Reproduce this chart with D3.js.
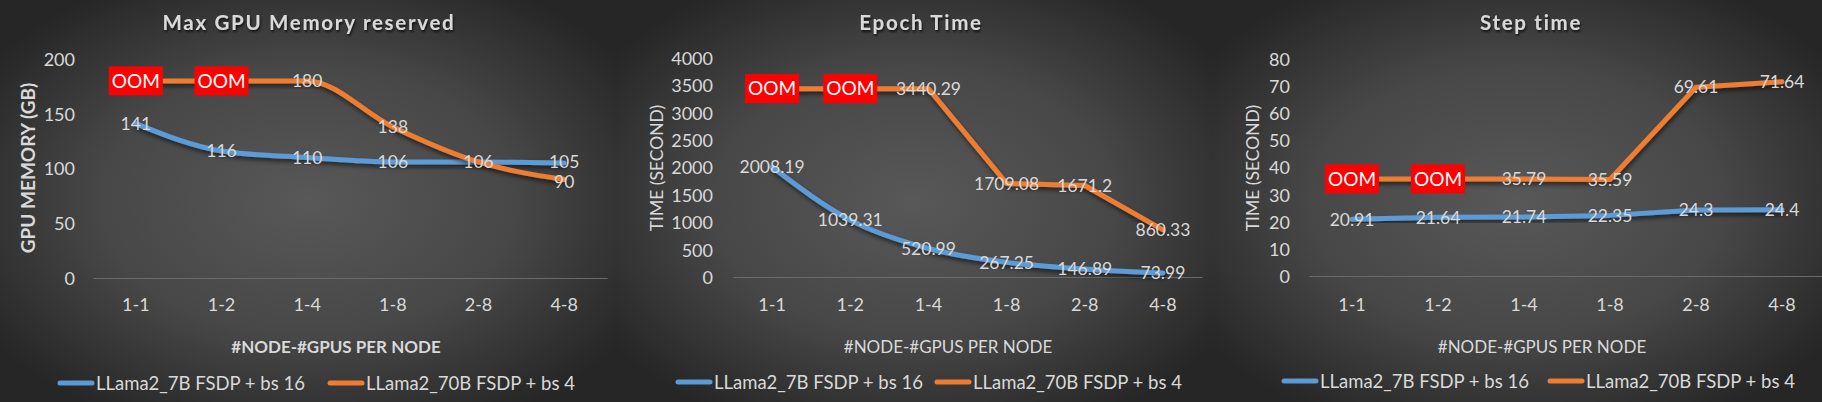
<!DOCTYPE html>
<html><head><meta charset="utf-8">
<script src="https://cdn.jsdelivr.net/npm/d3@7/dist/d3.min.js"></script>
<style>
html,body{margin:0;padding:0;background:#2e2e2e;overflow:hidden;}
svg{display:block;}
</style></head><body>
<svg id="c" width="1822" height="402"></svg>
<script>
// ---------- DATA ----------
const categories = ["1-1", "1-2", "1-4", "1-8", "2-8", "4-8"];
const seriesNames = ["LLama2_7B FSDP + bs 16", "LLama2_70B FSDP + bs 4"];
const oomFlags = [true, true, false, false, false, false];

const memory7B = [141, 116, 110, 106, 106, 105];
const memory70B = [180, 180, 180, 138, 106, 90];
const memoryTicks = [0, 50, 100, 150, 200];

const epoch7B = [2008.19, 1039.31, 520.99, 267.25, 146.89, 73.99];
const epoch70B = [3440.29, 3440.29, 3440.29, 1709.08, 1671.2, 860.33];
const epochTicks = [0, 500, 1000, 1500, 2000, 2500, 3000, 3500, 4000];

const step7B = [20.91, 21.64, 21.74, 22.35, 24.3, 24.4];
const step70B = [35.79, 35.79, 35.79, 35.59, 69.61, 71.64];
const stepTicks = [0, 10, 20, 30, 40, 50, 60, 70, 80];

const titles = ["Max GPU Memory reserved", "Epoch Time", "Step time"];
const yTitles = ["GPU MEMORY (GB)", "TIME (SECOND)", "TIME (SECOND)"];
const xTitle = "#NODE-#GPUS PER NODE";

// ---------- STYLE ----------
const BLUE = "#5B9BD5", ORANGE = "#ED7D31", TXT = "#d9d9d9";
const FONT = "Lato, 'Open Sans', 'DejaVu Sans', sans-serif";

const svg = d3.select("#c");
const defs = svg.append("defs");
const sh = defs.append("filter").attr("id", "lineShadow").attr("x", "-10%").attr("y", "-30%").attr("width", "120%").attr("height", "160%");
sh.append("feDropShadow").attr("dx", 1).attr("dy", 3).attr("stdDeviation", 2).attr("flood-color", "#000").attr("flood-opacity", 0.55);
const tsh = defs.append("filter").attr("id", "textShadow").attr("x", "-10%").attr("y", "-30%").attr("width", "120%").attr("height", "160%");
tsh.append("feDropShadow").attr("dx", 1).attr("dy", 2).attr("stdDeviation", 1.2).attr("flood-color", "#000").attr("flood-opacity", 0.7);

const charts = [
  { id: "p1", px0: 0, px1: 616, plotX0: 93, plotX1: 607, yTop: 59, yBottom: 278, yMax: 200, ticks: memoryTicks,
    s1: memory7B, s2: memory70B, smooth1: true, smooth2: true, title: titles[0], titleX: 309,
    yTitle: yTitles[0], yTitleX: 28, yTitleSize: 19, yTitleBold: true, xTitleX: 336, xTitleBold: true,
    tickRight: 75, leg1: 58, leg2: 328, legY: 383 },
  { id: "p2", px0: 616, px1: 1212, plotX0: 733, plotX1: 1202, yTop: 58, yBottom: 277, yMax: 4000, ticks: epochTicks,
    s1: epoch7B, s2: epoch70B, smooth1: true, smooth2: false, title: titles[1], titleX: 921,
    yTitle: yTitles[1], yTitleX: 657, yTitleSize: 17.5, yTitleBold: false, xTitleX: 948, xTitleBold: false,
    tickRight: 713, leg1: 676, leg2: 935, legY: 382 },
  { id: "p3", px0: 1212, px1: 1822, plotX0: 1309, plotX1: 1825, yTop: 59, yBottom: 276, yMax: 80, ticks: stepTicks,
    s1: step7B, s2: step70B, smooth1: false, smooth2: false, title: titles[2], titleX: 1531,
    yTitle: yTitles[2], yTitleX: 1253, yTitleSize: 17.5, yTitleBold: false, xTitleX: 1542, xTitleBold: false,
    tickRight: 1290, leg1: 1282, leg2: 1548, legY: 381 }
];

const fmt = v => String(v);

charts.forEach(cfg => {
  const grad = defs.append("radialGradient").attr("id", cfg.id + "bg").attr("cx", "50%").attr("cy", "50%").attr("r", "62%");
  grad.append("stop").attr("offset", "0%").attr("stop-color", "#585858");
  grad.append("stop").attr("offset", "55%").attr("stop-color", "#474747");
  grad.append("stop").attr("offset", "100%").attr("stop-color", "#262626");

  const g = svg.append("g").attr("font-family", FONT);
  g.append("rect").attr("x", cfg.px0).attr("y", 0).attr("width", cfg.px1 - cfg.px0).attr("height", 402)
    .attr("fill", `url(#${cfg.id}bg)`);

  const x = d3.scaleBand().domain(categories).range([cfg.plotX0, cfg.plotX1]);
  const y = d3.scaleLinear().domain([0, cfg.yMax]).range([cfg.yBottom, cfg.yTop]);
  const cx = c => x(c) + x.bandwidth() / 2;

  // y axis (labels only)
  const ya = g.append("g").attr("transform", `translate(${cfg.plotX0},0)`)
    .call(d3.axisLeft(y).tickValues(cfg.ticks).tickFormat(d3.format("d")).tickSize(0).tickPadding(cfg.plotX0 - cfg.tickRight));
  ya.attr("font-family", null).attr("font-size", null);
  ya.select(".domain").remove();
  ya.selectAll("text").attr("fill", TXT).style("font-size", "18px").attr("dy", "0.36em");

  // x axis
  const xa = g.append("g").attr("transform", `translate(0,${cfg.yBottom})`)
    .call(d3.axisBottom(x).tickSize(0));
  xa.attr("font-family", null).attr("font-size", null);
  xa.select(".domain").attr("stroke", "#6a6a6a").attr("stroke-width", 1);
  xa.selectAll("text").attr("fill", TXT).style("font-size", "18px").attr("y", 305 - cfg.yBottom).attr("dy", "0.36em");

  // lines
  const mkLine = smooth => d3.line()
    .x((d, i) => cx(categories[i])).y(d => y(d))
    .curve(smooth ? d3.curveMonotoneX : d3.curveLinear);
  g.append("path").datum(cfg.s1).attr("d", mkLine(cfg.smooth1)).attr("fill", "none")
    .attr("stroke", BLUE).attr("stroke-width", 5).attr("stroke-linejoin", "round").attr("stroke-linecap", "round")
    .attr("filter", "url(#lineShadow)");
  g.append("path").datum(cfg.s2).attr("d", mkLine(cfg.smooth2)).attr("fill", "none")
    .attr("stroke", ORANGE).attr("stroke-width", 5).attr("stroke-linejoin", "round").attr("stroke-linecap", "round")
    .attr("filter", "url(#lineShadow)");

  // data labels (centred on the points; where both series share the same value, one label is shown)
  const rows1 = cfg.s1.map((v, i) => ({ v, i, other: cfg.s2[i] }));
  const rows2 = cfg.s2.map((v, i) => ({ v, i, oom: oomFlags[i], dup: v === cfg.s1[i] }));
  // small vertical nudge to keep close labels apart
  const nud1 = d => (d.other < d.v && Math.abs(y(d.other) - y(d.v)) < 20) ? -1.5 : 0;
  const nud2 = d => (cfg.s1[d.i] > d.v && Math.abs(y(cfg.s1[d.i]) - y(d.v)) < 20) ? 2 : 0;

  g.append("g").selectAll("text").data(rows1).join("text")
    .attr("x", d => cx(categories[d.i])).attr("y", d => y(d.v) + nud1(d)).attr("dy", "0.36em")
    .attr("text-anchor", "middle").attr("fill", TXT).style("font-size", "17.5px").text(d => fmt(d.v));
  const lab2 = g.append("g").selectAll("g").data(rows2.filter(d => !d.dup)).join("g")
    .attr("transform", d => `translate(${cx(categories[d.i])},${y(d.v) + nud2(d)})`);
  lab2.filter(d => d.oom).append("rect").attr("x", -27).attr("y", -14.5).attr("width", 54).attr("height", 29).attr("fill", "#ff0000");
  lab2.append("text").attr("dy", "0.36em").attr("text-anchor", "middle")
    .attr("fill", d => d.oom ? "#ffffff" : TXT).style("font-size", d => d.oom ? "19px" : "17.5px")
    .text(d => d.oom ? "OOM" : fmt(d.v));

  // title
  g.append("text").attr("x", cfg.titleX).attr("y", 23).attr("dy", "0.36em").attr("text-anchor", "middle")
    .attr("fill", TXT).style("font-size", "20.5px").style("font-weight", "bold").style("letter-spacing", "1.7px")
    .attr("filter", "url(#textShadow)").text(cfg.title);

  // y title
  g.append("text").attr("transform", `translate(${cfg.yTitleX},168) rotate(-90)`).attr("dy", "0.36em")
    .attr("text-anchor", "middle").attr("fill", TXT).style("font-size", cfg.yTitleSize + "px")
    .style("font-weight", cfg.yTitleBold ? "bold" : "normal").text(cfg.yTitle);

  // x title
  g.append("text").attr("x", cfg.xTitleX).attr("y", 347).attr("dy", "0.36em").attr("text-anchor", "middle")
    .attr("fill", TXT).style("font-size", "17px").style("font-weight", cfg.xTitleBold ? "bold" : "normal").text(xTitle);

  // legend
  [[cfg.leg1, BLUE, seriesNames[0]], [cfg.leg2, ORANGE, seriesNames[1]]].forEach(([lx, col, name]) => {
    g.append("line").attr("x1", lx + 2).attr("x2", lx + 34).attr("y1", cfg.legY).attr("y2", cfg.legY)
      .attr("stroke", col).attr("stroke-width", 5).attr("stroke-linecap", "round");
    g.append("text").attr("x", lx + 38).attr("y", cfg.legY).attr("dy", "0.36em").attr("fill", TXT)
      .style("font-size", "18.5px").text(name);
  });
});
</script>
</body></html>
